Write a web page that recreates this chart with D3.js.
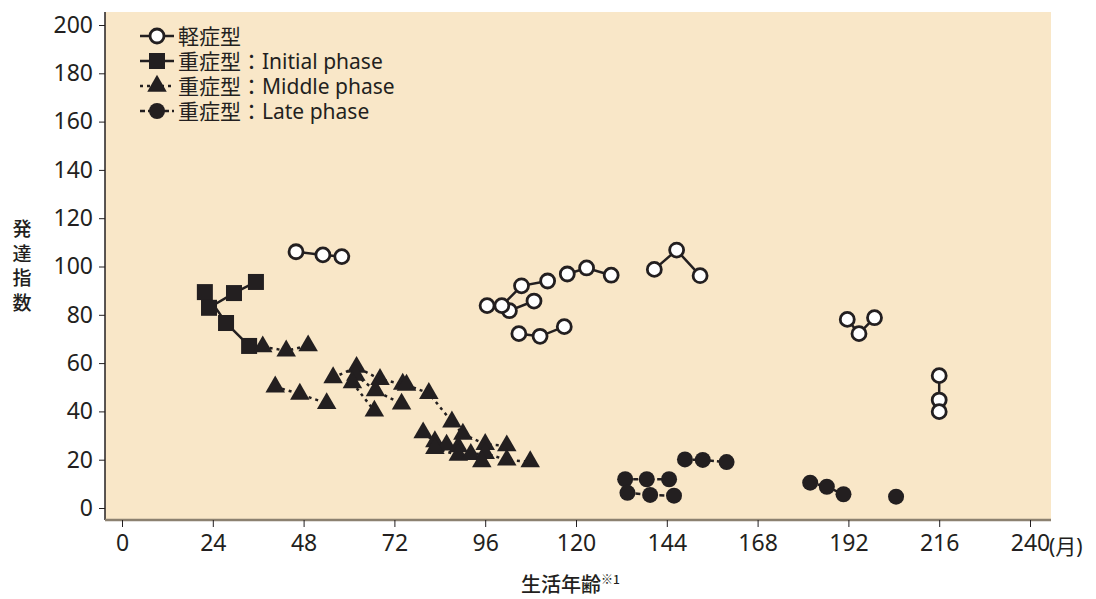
<!DOCTYPE html>
<html><head><meta charset="utf-8">
<script src="https://cdn.jsdelivr.net/npm/d3@7"></script>
<style>body{margin:0;background:#fff}svg{display:block}</style>
</head><body>
<svg id="c" width="1096" height="599"></svg>
<script>
// ---- data ----
const xTicks = [0,24,48,72,96,120,144,168,192,216,240];
const yTicks = [0,20,40,60,80,100,120,140,160,180,200];
const legendLabels = ["軽症型","重症型：Initial phase","重症型：Middle phase","重症型：Late phase"];
const mild = [
  [[46.0,106.1],[53.1,104.8],[58.1,104.1]],
  [[96.5,83.8],[102.4,81.7],[108.9,85.7]],
  [[100.4,83.8],[105.6,92.0],[112.5,94.0]],
  [[104.9,72.2],[110.5,71.1],[116.9,75.1]],
  [[117.7,96.9],[122.8,99.4],[129.3,96.4]],
  [[140.7,98.8],[146.6,106.8],[152.8,96.2]],
  [[191.7,78.1],[194.8,72.2],[198.9,78.8]],
  [[216,54.8],[216,44.7],[216,39.9]]
];
const initial = [
  [[21.9,89.4],[27.5,76.6],[33.6,67.1]],
  [[23.0,82.9],[29.6,89.0],[35.4,93.6]]
];
const middle = [
  [[37.2,66.8],[43.4,65.1],[49.2,67.2]],
  [[40.5,50.2],[47.0,47.2],[54.1,43.3]],
  [[55.8,54.0],[62.0,58.3],[68.2,53.3],[74.2,51.3]],
  [[75.2,50.9],[81.1,47.5],[87.2,35.7],[90.1,30.6],[96.0,26.4],[101.7,25.8]],
  [[61.8,55.0],[67.0,48.6],[73.9,43.1]],
  [[60.9,51.9],[66.7,40.2]],
  [[79.6,31.2],[82.7,27.5],[85.8,26.1],[88.9,25.4]],
  [[82.7,24.7],[88.9,21.9],[92.2,22.2],[96.0,22.6],[101.7,19.9],[107.9,19.2]],
  [[95.1,19.2]]
];
const late = [
  [[133.0,11.9],[138.7,11.9],[144.6,11.9]],
  [[133.6,6.3],[139.6,5.4],[145.9,5.1]],
  [[148.8,20.1],[153.5,19.9],[159.8,19.0]],
  [[181.9,10.5],[186.3,8.8],[190.7,5.7]],
  [[204.6,4.7]]
];

// ---- layout ----
const ink = "#231f20";
const svg = d3.select("#c");
const plot = {l:105, r:1051, t:12, b:520};
const x = d3.scaleLinear().domain([0,240]).range([122,1030]);
const y = d3.scaleLinear().domain([0,200]).range([508,25]);
const font = "'Noto Sans','Noto Sans CJK JP',sans-serif";

svg.append("rect").attr("x",plot.l).attr("y",plot.t).attr("width",plot.r-plot.l).attr("height",plot.b-plot.t).attr("fill","#f9e7c8");

// y axis
const ya = svg.append("g").attr("transform",`translate(${plot.l},0)`)
  .call(d3.axisLeft(y).tickValues(yTicks).tickSize(6).tickPadding(6));
ya.select(".domain").attr("d",`M0,${plot.t}V${plot.b}`).attr("stroke",ink).attr("stroke-width",1.5);
ya.selectAll(".tick line").attr("stroke",ink).attr("stroke-width",1);
ya.selectAll(".tick text").attr("font-family",font).attr("font-size",23).attr("fill",ink);

// x axis
const xa = svg.append("g").attr("transform",`translate(0,${plot.b})`)
  .call(d3.axisBottom(x).tickValues(xTicks).tickSize(7).tickPadding(8));
xa.select(".domain").attr("d",`M${plot.l},0H${plot.r}`).attr("stroke","#8c8170").attr("stroke-width",2.5);
xa.selectAll(".tick line").attr("stroke",ink).attr("stroke-width",1);
xa.selectAll(".tick text").attr("font-family",font).attr("font-size",23).attr("fill",ink);
svg.append("text").attr("x",x(240)+19).attr("y",plot.b+34).attr("font-family",font).attr("font-size",21).attr("fill",ink).text("(月)");

// axis titles
const yl = ["発","達","指","数"];
svg.append("g").selectAll("text").data(yl).join("text")
  .attr("x",22).attr("y",(d,i)=>236+i*24.5).attr("text-anchor","middle")
  .attr("font-family","'Noto Sans CJK JP',sans-serif").attr("font-size",19).attr("font-weight",500).attr("fill",ink).text(d=>d);
const xt = svg.append("text").attr("x",521).attr("y",592).attr("font-family","'Noto Sans CJK JP',sans-serif").attr("font-size",20).attr("font-weight",500).attr("fill",ink);
xt.append("tspan").text("生活年齢");
xt.append("tspan").attr("font-size",12).attr("dy",-8).text("※1");

// ---- series ----
const line = d3.line().x(d=>x(d[0])).y(d=>y(d[1]));
const styles = {
  mild:{dash:null},
  initial:{dash:null},
  middle:{dash:"3,4"},
  late:{dash:"5,3"}
};
const groups = [["mild",mild],["initial",initial],["middle",middle],["late",late]];
const lg = svg.append("g");
groups.forEach(([k,arr])=>{
  lg.selectAll(null).data(arr).join("path").attr("d",line)
    .attr("fill","none").attr("stroke",ink).attr("stroke-width",2.5)
    .attr("stroke-dasharray",styles[k].dash);
});
function marker(sel,k){
  if(k==="mild") sel.append("circle").attr("r",7).attr("fill","#fff").attr("stroke",ink).attr("stroke-width",2.8);
  else if(k==="initial") sel.append("rect").attr("x",-8).attr("y",-8).attr("width",16).attr("height",16).attr("fill",ink);
  else if(k==="middle") sel.append("path").attr("d",d3.symbol(d3.symbolTriangle,165)()).attr("fill",ink);
  else sel.append("circle").attr("r",8).attr("fill",ink);
}
const mg = svg.append("g");
groups.forEach(([k,arr])=>{
  arr.flat().forEach(p=>{
    const g = mg.append("g").attr("transform",`translate(${x(p[0])},${y(p[1])})`);
    marker(g,k);
  });
});

// legend
const leg = svg.append("g");
["mild","initial","middle","late"].forEach((k,i)=>{
  const ly = 36 + i*25;
  const g = leg.append("g").attr("transform",`translate(0,${ly})`);
  g.append("line").attr("x1",140).attr("x2",174).attr("y1",0).attr("y2",0).attr("stroke",ink).attr("stroke-width",2.5).attr("stroke-dasharray",styles[k].dash);
  const m = g.append("g").attr("transform","translate(157,0)");
  marker(m,k);
  g.append("text").attr("x",178).attr("y",7.5).attr("font-family","'Noto Sans','Noto Sans CJK JP',sans-serif").attr("font-size",21).attr("fill",ink).text(legendLabels[i]);
});
</script>
</body></html>
